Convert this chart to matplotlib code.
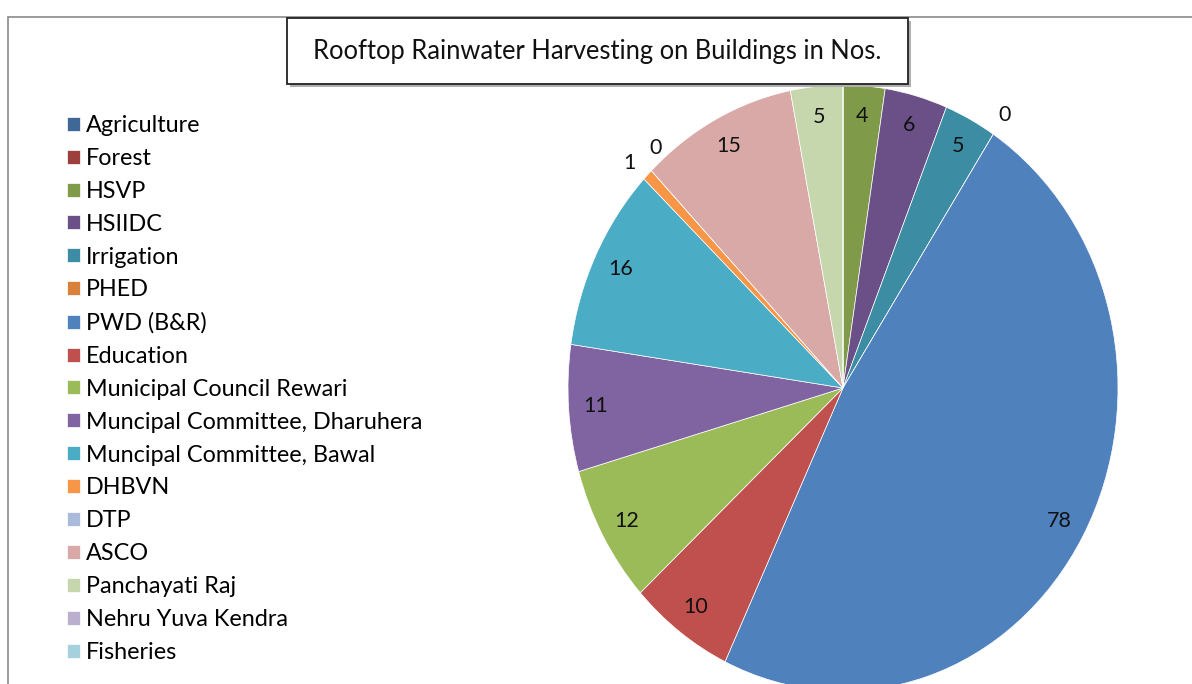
import numpy as np
import matplotlib
matplotlib.use('Agg')
import matplotlib.pyplot as plt
import matplotlib.patches as mpatches

plt.rcParams['font.family'] = ['Lato', 'DejaVu Sans']

# data
departments = ['Agriculture', 'Forest', 'HSVP', 'HSIIDC', 'Irrigation', 'PHED',
               'PWD (B&R)', 'Education', 'Municipal Council Rewari',
               'Muncipal Committee, Dharuhera', 'Muncipal Committee, Bawal',
               'DHBVN', 'DTP', 'ASCO', 'Panchayati Raj', 'Nehru Yuva Kendra',
               'Fisheries']
buildings = [0, 0, 4, 6, 5, 0, 78, 10, 12, 11, 16, 1, 0, 15, 5, 0, 0]
colors = ['#3F6797', '#9C3F3D', '#7F9A48', '#6A5087', '#3C8DA3', '#D9803A',
          '#4F81BD', '#C0504D', '#9BBB59', '#8064A2', '#4BACC6', '#F79646',
          '#A9BADA', '#D9A9A8', '#C6D7AE', '#BAAFCF', '#A5D0DC']
hidden_labels = ['Agriculture', 'Forest', 'Nehru Yuva Kendra', 'Fisheries']
title = 'Rooftop Rainwater Harvesting on Buildings in Nos.'

W, H = 1192, 684
fig = plt.figure(figsize=(W / 100, H / 100), dpi=100)

# outer chart frame (only top / left edges visible)
fig.patches.append(mpatches.Rectangle((8 / W, -0.1), 1.2, (H - 17) / H + 0.1,
                                      transform=fig.transFigure, fill=False,
                                      edgecolor='#8a8a8a', lw=1.2))

# pie axes: elliptical pie, centre (843, 388), rx 275, ry 303
cx, cy, rx, ry = 843, 388, 275, 303
ax = fig.add_axes([(cx - rx) / W, (H - cy - ry) / H, 2 * rx / W, 2 * ry / H])
wedges, _ = ax.pie(buildings, colors=colors, startangle=90, counterclock=False,
                   wedgeprops=dict(edgecolor='white', linewidth=0.5))
ax.set_aspect('auto')
ax.set_xlim(-1, 1)
ax.set_ylim(-1, 1)
ax.axis('off')

# small angle nudges so the two outside labels near DHBVN don't overlap
nudge = {'DHBVN': 1.0, 'DTP': -3.5}
for w, name, v in zip(wedges, departments, buildings):
    if name in hidden_labels:
        continue
    mid = (w.theta1 + w.theta2) / 2 + nudge.get(name, 0)
    if v > 1:
        r = 0.9
    elif name == 'DTP':
        r = 1.045
    else:
        r = 1.075
    ax.text(r * np.cos(np.radians(mid)), r * np.sin(np.radians(mid)), str(v),
            ha='center', va='center', fontsize=15.5, color='#111111')

# legend
ax.legend(wedges, departments, loc='upper left', bbox_to_anchor=(67 / W, 1 - 115 / H),
          bbox_transform=fig.transFigure, frameon=False, fontsize=16.8,
          labelspacing=0.51, handlelength=0.55, handleheight=0.55,
          handletextpad=0.28, borderpad=0, borderaxespad=0)

# title box with a slight shadow
bx0, by0, bx1, by1 = 287, 18, 908, 84
fig.patches.append(mpatches.Rectangle(((bx0 + 3) / W, 1 - (by1 + 3) / H), (bx1 - bx0) / W,
                                      (by1 - by0) / H, transform=fig.transFigure,
                                      facecolor='#b0b0b0', edgecolor='none', zorder=4))
fig.patches.append(mpatches.Rectangle((bx0 / W, 1 - by1 / H), (bx1 - bx0) / W,
                                      (by1 - by0) / H, transform=fig.transFigure,
                                      facecolor='white', edgecolor='#222222', lw=1.3, zorder=5))
fig.text((bx0 + bx1) / 2 / W, 1 - 52 / H, title, ha='center', va='center',
         fontsize=18.4, color='#111111', zorder=6)

fig.savefig('out.png', dpi=100)
